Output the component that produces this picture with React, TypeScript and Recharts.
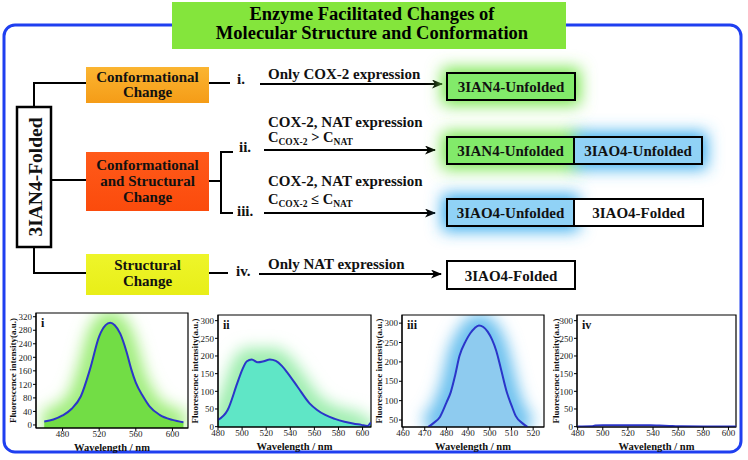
import React from 'react';
import { ComposedChart, Area, Line, XAxis, YAxis, ReferenceArea, Label } from 'recharts';

const FONT = '"Liberation Serif", "Times New Roman", Times, serif';

// ---- Spectrum i : only COX-2 (3IAN4-Unfolded) ----
const waveI = [460, 470, 480, 490, 500, 510, 520, 527, 532, 537, 543, 550, 555, 560, 568, 575, 586, 600, 612];
const intI = [10, 16, 28, 48, 85, 165, 262, 295, 302, 295, 270, 215, 165, 125, 84, 55, 30, 15, 8];
const xTicksI = [480, 520, 560, 600];
const yTicksI = [0, 40, 80, 120, 160, 200, 240, 280, 320];

// ---- Spectrum ii : COX-2 > NAT ----
const waveII = [480, 488, 496, 500, 504, 508, 513, 518, 523, 528, 533, 538, 546, 556, 562, 569, 577, 585, 592, 599, 604, 607];
const intII = [19, 47, 123, 160, 185, 190, 182, 185, 190, 186, 172, 151, 113, 66, 48, 33, 22, 14, 9, 5, 2, 12];
const xTicksII = [480, 500, 520, 540, 560, 580, 600];
const yTicksII = [0, 50, 100, 150, 200, 250, 300];

// ---- Spectrum iii : COX-2 <= NAT ----
const waveIII = [471.5, 474, 477, 480, 482, 484, 486, 489, 491, 493, 495, 497, 499, 501, 503, 505, 508, 510, 512, 515, 517.5];
const intIII = [32, 42, 58, 95, 122, 165, 215, 255, 274, 287, 294, 290, 278, 258, 228, 185, 119, 88, 60, 42, 32];
const xTicksIII = [460, 470, 480, 490, 500, 510, 520];
const yTicksIII = [50, 100, 150, 200, 250, 300];

// ---- Spectrum iv : only NAT ----
const waveIV = [480, 491, 494, 500, 510, 520, 530, 538, 545, 553, 560, 580, 600, 606];
const intIV = [0.5, 1, 3, 4, 4, 4, 4, 4, 3, 2, 1, 0.5, 0.5, 0.5];
const xTicksIV = [480, 500, 520, 540, 560, 580, 600];
const yTicksIV = [0, 50, 100, 150, 200, 250, 300];

const toRows = (w: number[], v: number[]) => w.map((x, i) => ({ w: x, v: v[i] }));

const X_H = 24;

type Cfg = {
  id: string;
  left: number; top: number; width: number; height: number;
  margin: { top: number; right: number; bottom: number; left: number };
  yWidth: number;
  xDomain: [number, number]; yDomain: [number, number];
  xTicks: number[]; yTicks: number[];
  data: { w: number; v: number }[];
  fill?: string; glow?: string;
  tag: string; yLabelX: number;
};

const tickStyle = { fontSize: 9, fill: '#222', fontFamily: FONT };

function Spectrum({ c }: { c: Cfg }) {
  const plotLeft = c.margin.left + c.yWidth;
  const plotW = c.width - plotLeft - c.margin.right;
  const plotTop = c.margin.top;
  const plotH = c.height - c.margin.top - c.margin.bottom - X_H;
  const cy = plotTop + plotH / 2;
  return (
    <div style={{ position: 'absolute', left: c.left, top: c.top, width: c.width, height: c.height }}>
      <ComposedChart width={c.width} height={c.height} data={c.data} margin={c.margin}>
        <defs>
          <filter id={`glow-${c.id}`} filterUnits="userSpaceOnUse" x={plotLeft} y={plotTop} width={plotW} height={plotH}>
            <feGaussianBlur stdDeviation="8" />
          </filter>
        </defs>
        <XAxis
          type="number" dataKey="w" domain={c.xDomain} ticks={c.xTicks} allowDataOverflow
          height={X_H} tick={tickStyle} tickSize={3} tickMargin={0} stroke="#000" interval={0}
        >
          <Label value="Wavelength / nm" position="insideBottom" offset={1.5}
            style={{ fontSize: 10.5, fontWeight: 'bold', fill: '#111', fontFamily: FONT }} />
        </XAxis>
        <YAxis
          type="number" domain={c.yDomain} ticks={c.yTicks} allowDataOverflow
          width={c.yWidth} tick={tickStyle} tickSize={3} tickMargin={1} stroke="#000" interval={0}
        >
          <Label content={() => (
            <text x={c.yLabelX} y={cy} transform={`rotate(-90 ${c.yLabelX} ${cy})`} textAnchor="middle"
              dominantBaseline="central" fontSize={9} fontWeight="bold" fill="#111" fontFamily={FONT}>
              Fluorescence intensity(a.u.)
            </text>
          )} />
        </YAxis>
        {c.fill && (
          <Area dataKey="v" type="monotone" baseValue="dataMin" fill={c.glow} fillOpacity={1}
            stroke={c.glow} strokeWidth={24} style={{ filter: `url(#glow-${c.id})` }}
            isAnimationActive={false} />
        )}
        {c.fill && (
          <Area dataKey="v" type="monotone" baseValue="dataMin" fill={c.fill} fillOpacity={1}
            stroke="none" isAnimationActive={false} />
        )}
        <Line dataKey="v" type="monotone" stroke="#2b35c9" strokeWidth={2} dot={false} isAnimationActive={false} />
        <ReferenceArea x1={c.xDomain[0]} x2={c.xDomain[1]} y1={c.yDomain[0]} y2={c.yDomain[1]}
          fill="none" stroke="#000" strokeWidth={1.2} ifOverflow="visible"
          label={{ value: c.tag, position: 'insideTopLeft', offset: 5,
            style: { fontSize: 12, fontWeight: 'bold', fill: '#111', fontFamily: FONT } }} />
      </ComposedChart>
    </div>
  );
}

const charts: Cfg[] = [
  {
    id: 'i', left: 0, top: 300, width: 192, height: 160,
    margin: { top: 13, right: 4, bottom: 8, left: 8 }, yWidth: 28,
    xDomain: [451, 617], yDomain: [-9, 331], xTicks: xTicksI, yTicks: yTicksI,
    data: toRows(waveI, intI), fill: '#72dd45', glow: '#a3ee80', tag: 'i', yLabelX: 13,
  },
  {
    id: 'ii', left: 185, top: 300, width: 190, height: 160,
    margin: { top: 15, right: 4, bottom: 9, left: 8 }, yWidth: 25,
    xDomain: [480, 607], yDomain: [-1, 316], xTicks: xTicksII, yTicks: yTicksII,
    data: toRows(waveII, intII), fill: '#5fe6c6', glow: '#a0eeb0', tag: 'ii', yLabelX: 10,
  },
  {
    id: 'iii', left: 372, top: 300, width: 176, height: 160,
    margin: { top: 15, right: 4, bottom: 9, left: 6 }, yWidth: 24,
    xDomain: [459.5, 525], yDomain: [32, 321], xTicks: xTicksIII, yTicks: yTicksIII,
    data: toRows(waveIII, intIII), fill: '#8ecbef', glow: '#70c2ef', tag: 'iii', yLabelX: 7,
  },
  {
    id: 'iv', left: 548, top: 300, width: 192, height: 160,
    margin: { top: 15, right: 4, bottom: 9, left: 6 }, yWidth: 23,
    xDomain: [479.5, 606], yDomain: [-1, 316], xTicks: xTicksIV, yTicks: yTicksIV,
    data: toRows(waveIV, intIV), tag: 'iv', yLabelX: 8,
  },
];

const T = { fontFamily: FONT, fontWeight: 'bold' as const, fill: '#111' };

function Sub({ x, y, main, sub1, op, sub2 }: { x: number; y: number; main: string; sub1: string; op: string; sub2: string }) {
  return (
    <text x={x} y={y} fontSize={14.5} {...T}>
      {main}
      <tspan fontSize={9.5} dy={3}>{sub1}</tspan>
      <tspan dy={-3}>{` ${op} `}{main}</tspan>
      <tspan fontSize={9.5} dy={3}>{sub2}</tspan>
    </text>
  );
}

function Diagram() {
  const line = { stroke: '#000', strokeWidth: 2, fill: 'none' };
  return (
    <svg width={748} height={460} style={{ position: 'absolute', left: 0, top: 0 }}>
      <defs>
        <filter id="boxGlow" x="-50%" y="-100%" width="200%" height="300%">
          <feGaussianBlur stdDeviation="8" />
        </filter>
        <marker id="arr" markerWidth="11" markerHeight="9" refX="10" refY="4.5" orient="auto" markerUnits="userSpaceOnUse">
          <path d="M0,0 L11,4.5 L0,9 L3,4.5 z" fill="#000" />
        </marker>
        <linearGradient id="gOrange" x1="0" y1="0" x2="0" y2="1">
          <stop offset="0" stopColor="#fbb531" />
          <stop offset="1" stopColor="#f59c17" />
        </linearGradient>
        <linearGradient id="gRed" x1="0" y1="0" x2="0" y2="1">
          <stop offset="0" stopColor="#ff5a1a" />
          <stop offset="1" stopColor="#fb4b0c" />
        </linearGradient>
        <linearGradient id="gYellow" x1="0" y1="0" x2="0" y2="1">
          <stop offset="0" stopColor="#eef52a" />
          <stop offset="1" stopColor="#e8ee18" />
        </linearGradient>
      </defs>

      {/* outer frame */}
      <rect x={4} y={25} width={737} height={427} rx={11} fill="none" stroke="#1f3ff0" strokeWidth={3} />

      {/* title */}
      <rect x={172} y={2} width={394} height={47} fill="#84e53c" />
      <text x={372} y={20} textAnchor="middle" fontSize={18.5} {...T} fill="#000">Enzyme Facilitated Changes of</text>
      <text x={372} y={39} textAnchor="middle" fontSize={18.5} {...T} fill="#000">Molecular Structure and Conformation</text>

      {/* root box */}
      <rect x={17} y={107} width={34} height={140} fill="#fff" stroke="#000" strokeWidth={2.5} />
      <text x={35} y={177} transform="rotate(-90 35 177)" textAnchor="middle" dominantBaseline="central" fontSize={19.5} {...T}>3IAN4-Folded</text>

      {/* left bracket */}
      <polyline points="34,107 34,83 86,83" {...line} />
      <polyline points="34,247 34,273 86,273" {...line} />
      <line x1={51} y1={180} x2={86} y2={180} {...line} />

      {/* category boxes */}
      <rect x={86} y={67} width={123} height={36} fill="url(#gOrange)" />
      <text x={147.5} y={82} textAnchor="middle" fontSize={15} {...T}>Conformational</text>
      <text x={147.5} y={97} textAnchor="middle" fontSize={15} {...T}>Change</text>

      <rect x={86} y={152} width={123} height={59} fill="url(#gRed)" />
      <text x={147.5} y={170} textAnchor="middle" fontSize={15} {...T}>Conformational</text>
      <text x={147.5} y={186} textAnchor="middle" fontSize={15} {...T}>and Structural</text>
      <text x={147.5} y={202} textAnchor="middle" fontSize={15} {...T}>Change</text>

      <rect x={86} y={254} width={123} height={41} fill="url(#gYellow)" />
      <text x={147.5} y={270} textAnchor="middle" fontSize={15} {...T}>Structural</text>
      <text x={147.5} y={286} textAnchor="middle" fontSize={15} {...T}>Change</text>

      {/* connectors and roman numerals */}
      <line x1={209} y1={83} x2={230} y2={83} {...line} />
      <text x={237} y={84} fontSize={15} {...T}>i.</text>

      <line x1={209} y1={181} x2={221} y2={181} {...line} />
      <polyline points="233,152 221,152 221,213 233,213" {...line} />
      <text x={239} y={152} fontSize={15} {...T}>ii.</text>
      <text x={237} y={216} fontSize={15} {...T}>iii.</text>

      <line x1={209} y1={273} x2={228} y2={273} {...line} />
      <text x={236} y={276} fontSize={15} {...T}>iv.</text>

      {/* arrows */}
      <line x1={260} y1={84} x2={442} y2={84} {...line} markerEnd="url(#arr)" />
      <text x={268} y={79} fontSize={15} {...T}>Only COX-2 expression</text>

      <line x1={264} y1={150} x2={435} y2={150} {...line} markerEnd="url(#arr)" />
      <text x={268} y={127} fontSize={15} {...T}>COX-2, NAT expression</text>
      <Sub x={268} y={142} main="C" sub1="COX-2" op=">" sub2="NAT" />

      <line x1={264} y1={213} x2={435} y2={213} {...line} markerEnd="url(#arr)" />
      <text x={268} y={186} fontSize={15} {...T}>COX-2, NAT expression</text>
      <Sub x={268} y={204} main="C" sub1="COX-2" op="≤" sub2="NAT" />

      <line x1={259} y1={274} x2={441} y2={274} {...line} markerEnd="url(#arr)" />
      <text x={268} y={269} fontSize={15} {...T}>Only NAT expression</text>

      {/* glows */}
      <rect x={442} y={68} width={138} height={37} fill="#74e64a" filter="url(#boxGlow)" />
      <rect x={442} y={132} width={137} height={37} fill="#74e64a" filter="url(#boxGlow)" />
      <rect x={574} y={132} width={133} height={37} fill="#3aaeef" filter="url(#boxGlow)" />
      <rect x={442} y={194} width={137} height={37} fill="#3aaeef" filter="url(#boxGlow)" />

      {/* outcome boxes */}
      <rect x={447} y={73} width={128} height={27} fill="#82ea6a" stroke="#000" strokeWidth={2} />
      <text x={511} y={92} textAnchor="middle" fontSize={15} {...T}>3IAN4-Unfolded</text>

      <rect x={447} y={137} width={127} height={27} fill="#82ea6a" stroke="#000" strokeWidth={2} />
      <rect x={574} y={137} width={128} height={27} fill="#90d2f6" stroke="#000" strokeWidth={2} />
      <text x={510.5} y={156} textAnchor="middle" fontSize={15} {...T}>3IAN4-Unfolded</text>
      <text x={638} y={156} textAnchor="middle" fontSize={15} {...T}>3IAO4-Unfolded</text>

      <rect x={447} y={199} width={127} height={27} fill="#90d2f6" stroke="#000" strokeWidth={2} />
      <rect x={574} y={199} width={129} height={27} fill="#fff" stroke="#000" strokeWidth={2} />
      <text x={510.5} y={218} textAnchor="middle" fontSize={15} {...T}>3IAO4-Unfolded</text>
      <text x={638.5} y={218} textAnchor="middle" fontSize={15} {...T}>3IAO4-Folded</text>

      <rect x={447} y={261} width={128} height={28} fill="#fff" stroke="#000" strokeWidth={2} />
      <text x={511} y={281} textAnchor="middle" fontSize={15} {...T}>3IAO4-Folded</text>
    </svg>
  );
}

export default function App() {
  return (
    <div style={{ position: 'absolute', left: 0, top: 0, width: 748, height: 460, background: '#fff', overflow: 'hidden', fontFamily: FONT }}>
      <Diagram />
      {charts.map((c) => (
        <Spectrum key={c.id} c={c} />
      ))}
    </div>
  );
}
